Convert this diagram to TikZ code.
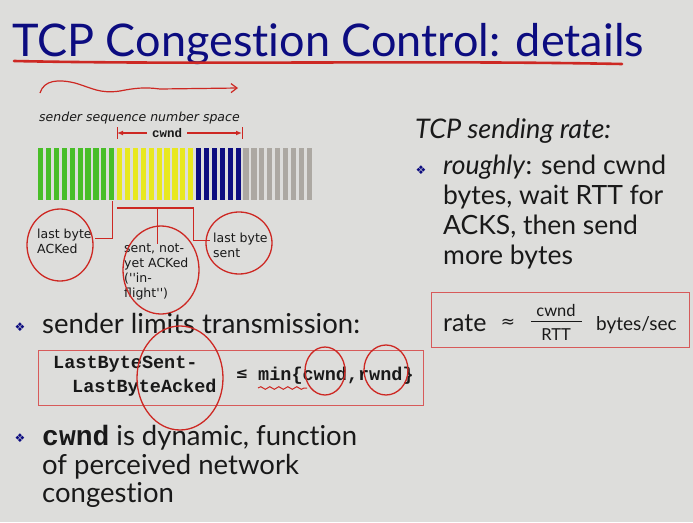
\documentclass[tikz,border=0pt]{standalone}
\usepackage{fontspec}
\setmainfont{Lato}[Ligatures={TeX,NoCommon}]
\newfontfamily\verd{DejaVu Sans}
\newfontfamily\cour{Liberation Mono}
\usetikzlibrary{arrows.meta,decorations.pathmorphing}
\definecolor{bg}{RGB}{221,221,219}
\definecolor{navy}{RGB}{12,12,128}
\definecolor{pen}{RGB}{205,40,35}
\definecolor{boxred}{RGB}{215,90,90}
\definecolor{greenbar}{RGB}{72,190,40}
\definecolor{yellowbar}{RGB}{232,232,30}
\definecolor{bluebar}{RGB}{12,12,128}
\definecolor{greybar}{RGB}{172,168,162}
\definecolor{ink}{RGB}{25,25,25}
\tikzset{
  fs/.style={font=\fontsize{#1}{#1}\selectfont},
  txt/.style={inner sep=0pt, text=ink},
  penline/.style={draw=pen, line width=1.3},
  conn/.style={draw=pen, line width=0.9},
  lbl/.style={txt, anchor=north west, align=left, font=\verd\fontsize{12.5}{15}\selectfont},
  bul/.style={inner sep=0pt, text=navy, font=\verd\fontsize{12}{12}\selectfont},
  mono/.style={txt, font=\cour\bfseries\fontsize{18.5}{22}\selectfont},
}
\begin{document}
\begin{tikzpicture}[x=1pt,y=-1pt]
\fill[bg] (0,0) rectangle (693,522);
\useasboundingbox (0,0) rectangle (693,522);

% title
\node[inner sep=0pt, anchor=base west, text=navy, fs=45] (title) at (12,56) {TCP Congestion Control: details};
\draw[pen, line width=2.6, line cap=round] (14,61) .. controls (200,65) and (420,60) .. (622,64);

% squiggly arrow
\draw[pen, line width=1.2, -{Straight Barb[length=6pt,width=9pt]}] (40,93) .. controls (44,80) and (58,79) .. (75,83)
  .. controls (92,88) and (100,94) .. (120,91) .. controls (135,88) and (145,87) .. (160,89) -- (238,88);

% sequence space
\node[txt, anchor=base west, font=\verd\itshape\fontsize{12.5}{12.5}\selectfont] (sss) at (39,121) {sender sequence number space};
\node[txt, font=\cour\bfseries\fontsize{12.5}{12.5}\selectfont] (cw) at (167,133) {cwnd};
\coordinate (cwl) at (117,133);
\coordinate (cwr) at (242,133);
\draw[pen, line width=1.3, -{Latex[length=6pt,width=5pt]}] ([xshift=-5pt]cw.west) -- (cwl);
\draw[pen, line width=1.3, -{Latex[length=6pt,width=5pt]}] ([xshift=5pt]cw.east) -- (cwr);
\draw[pen, line width=1] (117,127) -- (117,139);
\draw[pen, line width=1] (242,127) -- (242,139);

\foreach \i in {0,...,9} \fill[greenbar] ({38+7.9*\i},148) rectangle ++(5.2,52);
\foreach \i in {10,...,19} \fill[yellowbar] ({38+7.9*\i},148) rectangle ++(5.2,52);
\foreach \i in {20,...,25} \fill[bluebar] ({38+7.9*\i},148) rectangle ++(5.2,52);
\foreach \i in {26,...,34} \fill[greybar] ({38+7.9*\i},148) rectangle ++(5.2,52);

\draw[pen, line width=2.2] (117,208) -- (194,208);

% labels
\node[lbl] (lba) at (37,229) {last byte\\ACKed};
\node[lbl] (inf) at (124,244) {sent, not-\\yet ACKed\\(''in-\\flight'')};
\node[lbl] (lbs) at (213,233) {last byte\\sent};
\coordinate (c1) at (112,201);
\coordinate (c2) at (157,208);
\coordinate (c3) at (193,208);
\draw[conn] (c1) |- ([xshift=3pt]lba.east |- 0,238);
\draw[conn] (c2) -- (c2 |- inf.north);
\draw[conn] (c3) |- ([xshift=-3pt]lbs.west |- 0,240);

\draw[penline] (60,245) ellipse [x radius=33, y radius=36];
\draw[penline] (161,270) ellipse [x radius=38, y radius=44];
\draw[penline] (239,243) ellipse [x radius=33, y radius=31];

% right column
\node[txt, anchor=base west, font=\itshape\fontsize{27}{27}\selectfont] (tsr) at (415,138) {TCP sending rate:};
\node[bul] (b1) at (421,170) {❖};
\node[txt, anchor=north west, align=left, font=\fontsize{26.5}{30}\selectfont] (rough) at (443,155)
  {\textit{roughly}: send cwnd\\bytes, wait RTT for\\ACKS, then send\\more bytes};

\node[draw=boxred, line width=0.8, inner sep=0pt, minimum width=258, minimum height=55, anchor=north west] (rbox) at (431,292) {};
\node[txt, anchor=base west, fs=25] (rate) at (443,331) {rate};
\node[txt, font=\verd\fontsize{17}{17}\selectfont] (approx) at (508,323) {≈};
\node[txt, fs=16.5] (num) at (556,310) {cwnd};
\node[txt, fs=16.5] (den) at (556,335) {RTT};
\draw[ink, line width=0.8] (531,321) -- (582,321);
\node[txt, anchor=base west, fs=19] (bps) at (596,330) {bytes/sec};

% left bottom
\node[bul] (b2) at (20,327) {❖};
\node[txt, anchor=base west, fs=27.5] (slt) at (42,333) {sender limits transmission:};
\node[draw=boxred, line width=0.8, inner sep=0pt, minimum width=385, minimum height=55, anchor=north west] (lbox) at (38,350) {};
\node[mono, anchor=base west] (lbs1) at (53,368) {LastByteSent-};
\node[mono, anchor=base west] (lba1) at (72,392) {LastByteAcked};
\node[txt, font=\verd\bfseries\fontsize{15}{15}\selectfont] (le) at (242,374) {≤};
\node[mono, anchor=base west] (minf) at (258,380) {min\{cwnd,rwnd\}};
\draw[penline] (180,378) ellipse [x radius=43, y radius=52];
\draw[penline] (325,371) ellipse [x radius=20, y radius=24];
\draw[penline] (386,370) ellipse [x radius=22, y radius=25];
\draw[pen, line width=1, decorate, decoration={snake, amplitude=1.3pt, segment length=9pt}] (258,388) -- (307,388);

\node[bul] (b3) at (20,438) {❖};
\node[txt, anchor=base west, fs=27.5] (dyn) at (42,445) {{\cour\bfseries\fontsize{28}{28}\selectfont cwnd} is dynamic, function};
\node[txt, anchor=base west, fs=27.5] (dyn2) at (42,474) {of perceived network};
\node[txt, anchor=base west, fs=27.5] (dyn3) at (42,502) {congestion};
\end{tikzpicture}
\end{document}
